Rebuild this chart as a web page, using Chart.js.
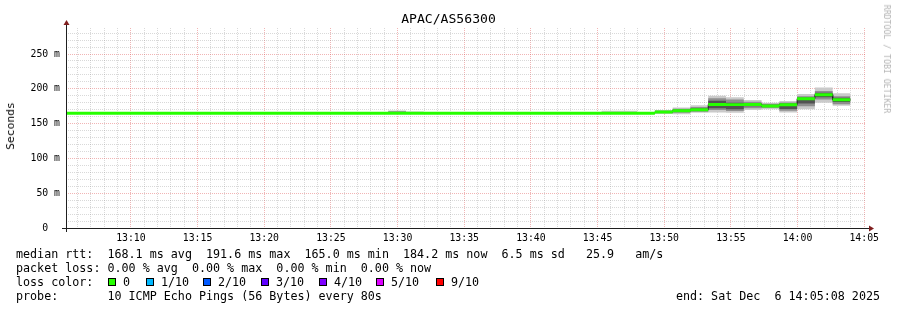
<!DOCTYPE html>
<html><head><meta charset="utf-8">
<script src="https://cdn.jsdelivr.net/npm/chart.js@4.4.1/dist/chart.umd.min.js"></script>
<style>
html,body{margin:0;padding:0;background:#fff;}
body{width:897px;height:310px;position:relative;overflow:hidden;font-family:'DejaVu Sans Mono',monospace;color:#000;}
#c{position:absolute;left:0;top:0;}
.t{position:absolute;white-space:pre;line-height:14px;font-size:11.7px;}
#title{left:0;width:897px;text-align:center;top:11px;font-size:13.1px;line-height:15px;}
#ytitle{left:11px;top:126px;transform:translate(-50%,-50%) rotate(-90deg);font-size:11.3px;}
#wm{left:887px;top:59px;transform:translate(-50%,-50%) rotate(90deg);font-size:8.2px;color:#b4b4b4;line-height:10px;}
.sq{position:absolute;width:8px;height:8px;box-sizing:border-box;border:1px solid #000;top:278px;}
</style></head><body>
<canvas id="c" width="897" height="310"></canvas>
<div id="title" class="t">APAC/AS56300</div>
<div id="ytitle" class="t">Seconds</div>
<div id="wm" class="t">RRDTOOL / TOBI OETIKER</div>
<div class="t" style="left:16px;top:247px">median rtt:  168.1 ms avg  191.6 ms max  165.0 ms min  184.2 ms now  6.5 ms sd   25.9   am/s</div>
<div class="t" style="left:16px;top:261px">packet loss: 0.00 % avg  0.00 % max  0.00 % min  0.00 % now</div>
<div class="t" style="left:16px;top:275px">loss color:</div>
<div id="losslegend"></div>
<div class="t" style="left:16px;top:289px">probe:       10 ICMP Echo Pings (56 Bytes) every 80s</div>
<div class="t" style="right:17px;top:289px">end: Sat Dec  6 14:05:08 2025</div>
<script>
// ---- data ----
const windowStart = '13:05:08';
const windowEnd = '14:05:08';
const firstSampleEnd = '13:05:18';
const sampleStepSec = 80;
const xTickLabels = ['13:10','13:15','13:20','13:25','13:30','13:35','13:40','13:45','13:50','13:55','14:00','14:05'];
const yTickValuesMs = [0,50,100,150,200,250];
const yTickLabels = ['0  ','50 m','100 m','150 m','200 m','250 m'];
const yMaxMs = 287.4;

// median RTT per 80 s sample (ms)
const medianMs = [
 165.0,165.0,165.0,165.0,165.0,165.0,165.0,165.0,165.0,165.0,
 165.0,165.0,165.0,165.0,165.0,165.0,165.0,165.0,165.0,165.0,
 165.0,165.0,165.0,165.0,165.0,165.0,165.0,165.0,165.0,165.0,
 165.0,165.0,165.0,165.0,166.7,168.5,170.0,177.5,177.3,177.5,
 175.3,177.2,185.8,191.6,184.2];
// smoke: spread of the 10 pings (ms)
const smokeOuterLow = [
 164.6,164.6,164.6,164.6,164.6,164.6,164.6,164.6,164.6,164.6,
 164.6,164.6,164.6,164.6,164.6,164.6,164.6,164.6,164.6,164.6,
 164.6,164.6,164.6,164.6,164.6,164.6,164.6,164.6,164.6,164.6,
 164.6,164.6,164.6,164.6,164.0,163.5,165.5,166.0,165.5,169.5,
 170.5,166.0,170.5,180.0,175.5];
const smokeOuterHigh = [
 165.6,165.6,165.6,165.6,165.6,165.6,165.6,165.6,165.6,165.6,
 165.6,165.6,165.6,165.6,165.6,165.6,165.6,165.6,165.6,169.0,
 167.5,165.6,165.6,165.6,165.6,165.6,165.6,165.6,165.6,165.6,
 165.6,168.5,168.5,165.6,169.5,173.0,176.5,190.0,188.0,184.0,
 180.0,182.5,192.5,202.0,193.5];
const smokeMidLow = [
 164.8,164.8,164.8,164.8,164.8,164.8,164.8,164.8,164.8,164.8,
 164.8,164.8,164.8,164.8,164.8,164.8,164.8,164.8,164.8,164.8,
 164.8,164.8,164.8,164.8,164.8,164.8,164.8,164.8,164.8,164.8,
 164.8,164.8,164.8,164.8,165.0,165.5,167.0,169.5,168.0,172.0,
 172.5,168.5,175.0,184.5,178.0];
const smokeMidHigh = [
 165.4,165.4,165.4,165.4,165.4,165.4,165.4,165.4,165.4,165.4,
 165.4,165.4,165.4,165.4,165.4,165.4,165.4,165.4,165.4,167.8,
 165.4,165.4,165.4,165.4,165.4,165.4,165.4,165.4,165.4,165.4,
 165.4,165.4,165.4,165.4,168.5,171.5,174.0,186.5,184.5,181.5,
 178.5,180.5,189.5,197.0,189.5];
const smokeInnerLow = [
 164.9,164.9,164.9,164.9,164.9,164.9,164.9,164.9,164.9,164.9,
 164.9,164.9,164.9,164.9,164.9,164.9,164.9,164.9,164.9,164.9,
 164.9,164.9,164.9,164.9,164.9,164.9,164.9,164.9,164.9,164.9,
 164.9,164.9,164.9,164.9,166.0,167.0,168.5,172.0,170.5,175.0,
 174.0,171.0,179.0,188.0,181.0];
const smokeInnerHigh = [
 165.2,165.2,165.2,165.2,165.2,165.2,165.2,165.2,165.2,165.2,
 165.2,165.2,165.2,165.2,165.2,165.2,165.2,165.2,165.2,165.2,
 165.2,165.2,165.2,165.2,165.2,165.2,165.2,165.2,165.2,165.2,
 165.2,165.2,165.2,165.2,167.5,170.0,172.0,183.0,180.0,179.5,
 177.0,179.0,187.5,194.5,187.0];
const lossLabels = ['0','1/10','2/10','3/10','4/10','5/10','9/10'];
const lossColors = ['#26ff00','#00b8ff','#0059ff','#5e00ff','#7e00ff','#dd00ff','#ff0000'];

// ---- styles ----
const bandHalfMs = 2.1;
const gridGray = 'rgba(143,143,143,0.34)';
const gridRed = 'rgba(222,79,79,0.42)';
const smokeColors = ['#cacaca','#8e8e8e','#525252'];
const lossBoxX = [108,146,203,261,319,376,436];
const lossTextX = [123,161,218,276,334,391,451];

// loss legend
const ll = document.getElementById('losslegend');
lossLabels.forEach((lab,i)=>{
  const s = document.createElement('div'); s.className='sq';
  s.style.left = lossBoxX[i]+'px'; s.style.background = lossColors[i]; ll.appendChild(s);
  const t = document.createElement('div'); t.className='t';
  t.style.left = lossTextX[i]+'px'; t.style.top='275px'; t.textContent = lab; ll.appendChild(t);
});

function toSec(s){const p=s.split(':').map(Number);return p[0]*3600+p[1]*60+(p[2]||0);}
const x0 = toSec(windowStart);
const xSpan = toSec(windowEnd) - x0;
const firstEnd = toSec(firstSampleEnd) - x0;
function steps(vals){
  const pts=[];
  vals.forEach((v,i)=>{const e=firstEnd+i*sampleStepSec; pts.push({x:e-sampleStepSec,y:v},{x:e,y:v});});
  return pts;
}
const majorX = {};
xTickLabels.forEach(l=>{majorX[toSec(l)-x0]=l;});
const minuteTicks=[];
for(let s=Math.ceil(x0/60)*60; s<=x0+xSpan; s+=60) minuteTicks.push(s-x0);
const yLabelMap = {}; yTickValuesMs.forEach((v,i)=>yLabelMap[v]=yTickLabels[i]);
const yGridTicks=[]; for(let v=0; v<yMaxMs; v+=10) yGridTicks.push(v);

const base = {pointRadius:0,borderWidth:0,borderColor:'transparent',tension:0,spanGaps:false};
const datasets = [
  {...base, data:steps(smokeOuterLow), fill:false},
  {...base, data:steps(smokeOuterHigh), fill:'-1', backgroundColor:smokeColors[0]},
  {...base, data:steps(smokeMidLow), fill:false},
  {...base, data:steps(smokeMidHigh), fill:'-1', backgroundColor:smokeColors[1]},
  {...base, data:steps(smokeInnerLow), fill:false},
  {...base, data:steps(smokeInnerHigh), fill:'-1', backgroundColor:smokeColors[2]},
  {...base, data:steps(medianMs), borderWidth:1, borderColor:'#202020', fill:false},
  {...base, data:steps(medianMs.map(v=>v-bandHalfMs)), fill:false},
  {...base, data:steps(medianMs.map(v=>v+bandHalfMs)), fill:'-1', backgroundColor:lossColors[0]},
];
datasets.forEach((d,i)=>d.order = datasets.length - i);

const axesPlugin = {
  id:'rrdAxes',
  afterDraw(chart){
    const {ctx, chartArea:a} = chart;
    const yb = a.bottom+0.5, xl = a.left+0.5;
    ctx.save();
    ctx.strokeStyle='#1f1f1f'; ctx.lineWidth=1;
    ctx.beginPath();
    ctx.moveTo(a.left-4, yb); ctx.lineTo(a.right+4, yb);
    ctx.moveTo(xl, a.bottom+4); ctx.lineTo(xl, a.top-4);
    ctx.stroke();
    ctx.fillStyle='#801f1f';
    ctx.beginPath(); ctx.moveTo(a.right+3,yb-3); ctx.lineTo(a.right+3,yb+3); ctx.lineTo(a.right+8,yb); ctx.closePath(); ctx.fill();
    ctx.beginPath(); ctx.moveTo(xl-3,a.top-3); ctx.lineTo(xl+3,a.top-3); ctx.lineTo(xl,a.top-8); ctx.closePath(); ctx.fill();
    ctx.restore();
  }
};

new Chart(document.getElementById('c'), {
  type:'line',
  data:{datasets},
  options:{
    responsive:false, animation:false, devicePixelRatio:1,
    layout:{padding:{left:0,top:28,right:31,bottom:0}},
    plugins:{legend:{display:false},tooltip:{enabled:false},title:{display:false}},
    scales:{
      x:{type:'linear',min:0,max:xSpan,
        afterBuildTicks(s){s.ticks=minuteTicks.map(v=>({value:v}));},
        afterFit(s){s.height=82;},
        grid:{drawTicks:false,color:c=>majorX[c.tick.value]!==undefined?gridRed:gridGray,lineWidth:1},
        border:{display:false,dash:[1,1]},
        ticks:{autoSkip:false,maxRotation:0,minRotation:0,padding:5,color:'#000',
          font:{family:"'DejaVu Sans Mono', monospace",size:9.8},
          callback:v=>majorX[v]!==undefined?majorX[v]:''}
      },
      y:{type:'linear',min:0,max:yMaxMs,
        afterBuildTicks(s){s.ticks=yGridTicks.map(v=>({value:v}));},
        afterFit(s){s.width=66;},
        grid:{drawTicks:false,color:c=>c.tick.value===0?'transparent':(yLabelMap[c.tick.value]!==undefined?gridRed:gridGray),lineWidth:1},
        border:{display:false,dash:[1,1]},
        ticks:{autoSkip:false,padding:6,color:'#000',
          font:{family:"'DejaVu Sans Mono', monospace",size:9.8},
          callback:v=>yLabelMap[v]!==undefined?yLabelMap[v]:''}
      }
    }
  },
  plugins:[axesPlugin]
});
</script>
</body></html>
